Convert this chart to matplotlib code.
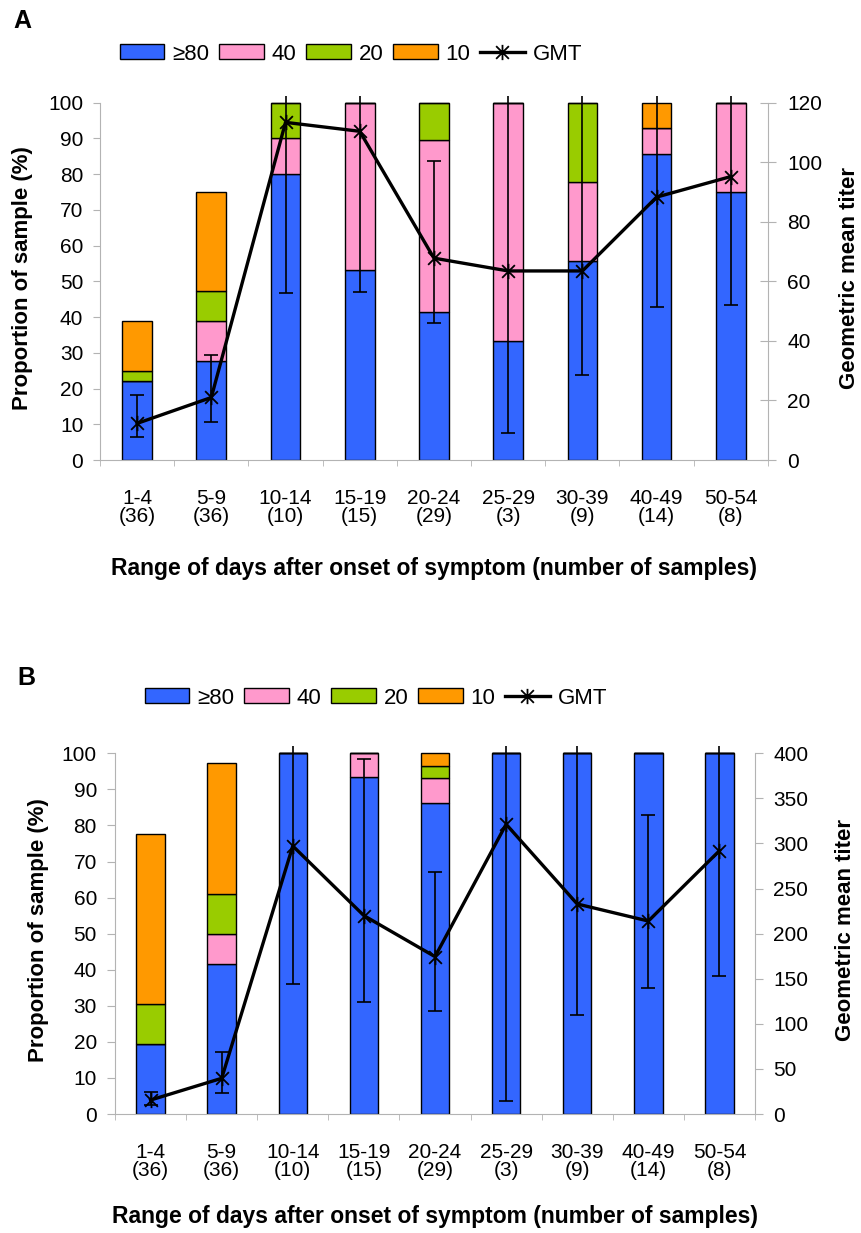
import numpy as np
import matplotlib
matplotlib.use("Agg")
import matplotlib.pyplot as plt
from matplotlib.path import Path
from matplotlib.patches import Patch
from matplotlib.lines import Line2D

plt.rcParams['font.family'] = ['Liberation Sans', 'DejaVu Sans']

# day ranges and number of samples
day_ranges = ["1-4", "5-9", "10-14", "15-19", "20-24", "25-29", "30-39", "40-49", "50-54"]
n_samples = [36, 36, 10, 15, 29, 3, 9, 14, 8]
tick_labels = [f"{d}\n({n})" for d, n in zip(day_ranges, n_samples)]

# panel A: proportion of samples (%) by titer
a_ge80 = [22.2, 27.8, 80.0, 53.3, 41.4, 33.3, 55.6, 85.7, 75.0]
a_40 = [0.0, 11.1, 10.0, 46.7, 48.3, 66.7, 22.2, 7.1, 25.0]
a_20 = [2.8, 8.3, 10.0, 0.0, 10.3, 0.0, 22.2, 0.0, 0.0]
a_10 = [13.9, 27.8, 0.0, 0.0, 0.0, 0.0, 0.0, 7.1, 0.0]
a_gmt = [12.3, 21.0, 113.4, 110.4, 67.8, 63.5, 63.5, 88.3, 95.2]
a_lo = [7.8, 12.7, 56.0, 56.5, 46.0, 9.0, 28.6, 51.5, 52.0]
a_hi = [21.8, 35.3, 200, 200, 100.3, 200, 200, 200, 200]

# panel B
b_ge80 = [19.4, 41.7, 100.0, 93.3, 86.2, 100.0, 100.0, 100.0, 100.0]
b_40 = [0.0, 8.3, 0.0, 6.7, 6.9, 0.0, 0.0, 0.0, 0.0]
b_20 = [11.1, 11.1, 0.0, 0.0, 3.45, 0.0, 0.0, 0.0, 0.0]
b_10 = [47.2, 36.1, 0.0, 0.0, 3.45, 0.0, 0.0, 0.0, 0.0]
b_gmt = [15.5, 39.6, 297.2, 220.0, 174.5, 321.3, 232.9, 214.0, 292.0]
b_lo = [10.0, 23.6, 143.8, 123.9, 114.6, 14.8, 109.5, 139.4, 153.0]
b_hi = [24.8, 69.2, 600, 393.7, 268.0, 600, 600, 332.0, 600]

colors = ['#3366FF', '#FF99CC', '#99CC00', '#FF9900']
legend_names = ['≥80', '40', '20', '10']
grey = '#b3b3b3'

# Excel-like star marker: x with a vertical stroke
star = Path([(-1, -1), (1, 1), (-1, 1), (1, -1), (0, -1.2), (0, 1.2)],
            [Path.MOVETO, Path.LINETO, Path.MOVETO, Path.LINETO, Path.MOVETO, Path.LINETO])


def draw_panel(fig, rect, stacks, gmt, lo, hi, rmax, rstep, opts):
    ax = fig.add_axes(rect)
    x = np.arange(len(day_ranges))
    bottom = np.zeros(len(x))
    for vals, c in zip(stacks, colors):
        vals = np.array(vals)
        ax.bar(x, vals, width=0.4, bottom=bottom, color=c, edgecolor='black', linewidth=1.0,
               zorder=2)
        bottom += vals
    ax.set_xlim(-0.5, len(x) - 0.5)
    ax.set_ylim(0, 102)
    ax.set_yticks(np.arange(0, 101, 10))
    ax.set_xticks(x)
    ax.set_xticklabels(tick_labels, fontsize=15, linespacing=0.95)
    ax.set_xticks(np.arange(-0.5, len(x), 1), minor=True)
    ax.tick_params(axis='x', which='major', length=0, pad=opts['tpad'])
    ax.tick_params(axis='x', which='minor', length=4, color=grey, direction='out')
    ax.tick_params(axis='y', labelsize=15, length=opts['llen'], color=grey, direction='out',
                   pad=7)
    for s in ['top', 'right']:
        ax.spines[s].set_visible(False)
    ax.spines['left'].set_bounds(0, 100)
    ax.spines['left'].set_color(grey)
    ax.spines['bottom'].set_color(grey)
    ax.set_ylabel("Proportion of sample (%)", fontsize=16, fontweight='bold',
                  labelpad=opts['lpad'])
    ax.set_xlabel("Range of days after onset of symptom (number of samples)", fontsize=16.5,
                  fontweight='bold', labelpad=opts['xpad'])

    ax2 = ax.twinx()
    ax2.set_ylim(0, rmax * 1.02)
    ax2.set_yticks(np.arange(0, rmax + 1, rstep))
    ax2.tick_params(axis='y', labelsize=15, length=opts['rlen'], color=grey,
                    direction=opts['rdir'], pad=opts['rtpad'])
    for s in ['top', 'left', 'bottom']:
        ax2.spines[s].set_visible(False)
    ax2.spines['right'].set_bounds(0, rmax)
    ax2.spines['right'].set_color(grey)
    gmt = np.array(gmt)
    yerr = [gmt - np.array(lo), np.array(hi) - gmt]
    ax2.errorbar(x, gmt, yerr=yerr, fmt='none', ecolor='black', elinewidth=1.2, capsize=5,
                 capthick=1.2)
    ax2.plot(x, gmt, color='black', lw=2.4, marker=star, ms=11, mew=1.3, mfc='none',
             mec='black')
    ax2.set_ylabel("Geometric mean titer", fontsize=16, fontweight='bold', rotation=90,
                   labelpad=opts['rpad'])
    return ax, ax2


fig = plt.figure(figsize=(8.61, 12.33), dpi=100)

draw_panel(fig, [0.1161, 0.6269, 0.7758, 0.2956], [a_ge80, a_40, a_20, a_10],
           a_gmt, a_lo, a_hi, 120, 20,
           dict(tpad=21, llen=5, lpad=11, xpad=22, rlen=12, rdir='inout', rtpad=8, rpad=12))
draw_panel(fig, [0.1336, 0.0965, 0.7433, 0.2984], [b_ge80, b_40, b_20, b_10],
           b_gmt, b_lo, b_hi, 400, 50,
           dict(tpad=21, llen=6, lpad=9, xpad=18, rlen=6, rdir='out', rtpad=7, rpad=19))

handles = [Patch(facecolor=c, edgecolor='black', linewidth=1.0) for c in colors]
handles.append(Line2D([], [], color='black', lw=2.4, marker=star, ms=11, mew=1.3))
labels = legend_names + ['GMT']
for cx, cy in [(351 / 861, 1 - 54 / 1233), (376 / 861, 1 - 698 / 1233)]:
    fig.legend(handles, labels, loc='center', bbox_to_anchor=(cx, cy), ncol=5, frameon=False,
               fontsize=16, handlelength=2.0, handleheight=0.62, handletextpad=0.35,
               columnspacing=0.45, borderpad=0)

fig.text(22 / 861, 1 - 21 / 1233, "A", fontsize=18, fontweight='bold', ha='center',
         va='center')
fig.text(26 / 861, 1 - 678 / 1233, "B", fontsize=18, fontweight='bold', ha='center',
         va='center')

fig.savefig("out.png", dpi=100)
